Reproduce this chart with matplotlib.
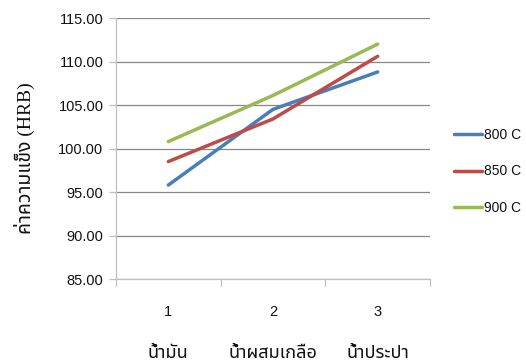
import matplotlib
matplotlib.use("Agg")
import matplotlib.pyplot as plt
from matplotlib import font_manager
import matplotlib.transforms as mtransforms

# Hardness after quenching in three media at three temperatures
positions = [1, 2, 3]
media = ["น้ำมัน", "น้ำผสมเกลือ", "น้ำประปา"]
series_names = ["800 C", "850 C", "900 C"]
hrb_800 = [95.8, 104.5, 108.8]
hrb_850 = [98.5, 103.4, 110.6]
hrb_900 = [100.8, 106.1, 112.0]
y_ticks = [85, 90, 95, 100, 105, 110, 115]
colors = ["#4a7ebb", "#be4b48", "#98b954"]

installed = {f.name for f in font_manager.fontManager.ttflist}
thai_candidates = ["Noto Sans Thai", "Noto Serif Thai", "Loma", "Garuda", "Norasi",
                   "Tlwg Typo", "Kinnari", "Noto Sans", "DejaVu Sans"]
thai_family = [f for f in thai_candidates if f in installed] or ["DejaVu Sans"]
num_family = ["Liberation Sans Narrow", "Liberation Sans", "DejaVu Sans"]
num_family = [f for f in num_family if f in installed] or ["DejaVu Sans"]
label_family = ["Liberation Serif"] + thai_family

fig = plt.figure(figsize=(5.26, 3.64), dpi=100)
ax = fig.add_axes([0.2205, 0.2335, 0.597, 0.717])

for vals, name, c in zip([hrb_800, hrb_850, hrb_900], series_names, colors):
    ax.plot(positions, vals, color=c, lw=2.5, solid_capstyle="round", label=name, zorder=3)

ax.set_xlim(0.5, 3.5)
ax.set_ylim(85, 115)
ax.set_yticks(y_ticks)
ax.set_yticklabels([f"{v:.2f}" for v in y_ticks], family=num_family, fontsize=10.5,
                   color="#111111")
ax.yaxis.grid(True, color="#878787", lw=0.9)
ax.set_axisbelow(True)

ax.set_xticks(positions)
ax.set_xticklabels([str(p) for p in positions], family=num_family, fontsize=10.5,
                   color="#111111")
ax.tick_params(axis="x", length=0, pad=19)
ax.set_xticks([0.5, 1.5, 2.5, 3.5], minor=True)
ax.tick_params(axis="x", which="minor", length=5, color="#bfbfbf", width=0.9)
ax.tick_params(axis="y", length=5, color="#bfbfbf", width=0.9, pad=4)

for s in ["top", "right"]:
    ax.spines[s].set_visible(False)
for s in ["left", "bottom"]:
    ax.spines[s].set_color("#bfbfbf")
    ax.spines[s].set_linewidth(0.9)

trans = mtransforms.blended_transform_factory(ax.transData, ax.transAxes)
for p, m in zip(positions, media):
    ax.text(p, -0.282, m, transform=trans, ha="center", va="center",
            family=thai_family, fontsize=13, color="#111111")

fig.text(0.047, 0.565, "ค่าความแข็ง (HRB)", rotation=90, ha="center", va="center",
         family=label_family, fontsize=14, color="#111111")

leg = fig.legend(loc="upper left", bbox_to_anchor=(0.839, 0.684), frameon=False,
                 handlelength=2.05, handletextpad=0.1, labelspacing=1.65,
                 prop={"family": num_family, "size": 10})
for t in leg.get_texts():
    t.set_color("#111111")

fig.savefig("out.png", dpi=100)
